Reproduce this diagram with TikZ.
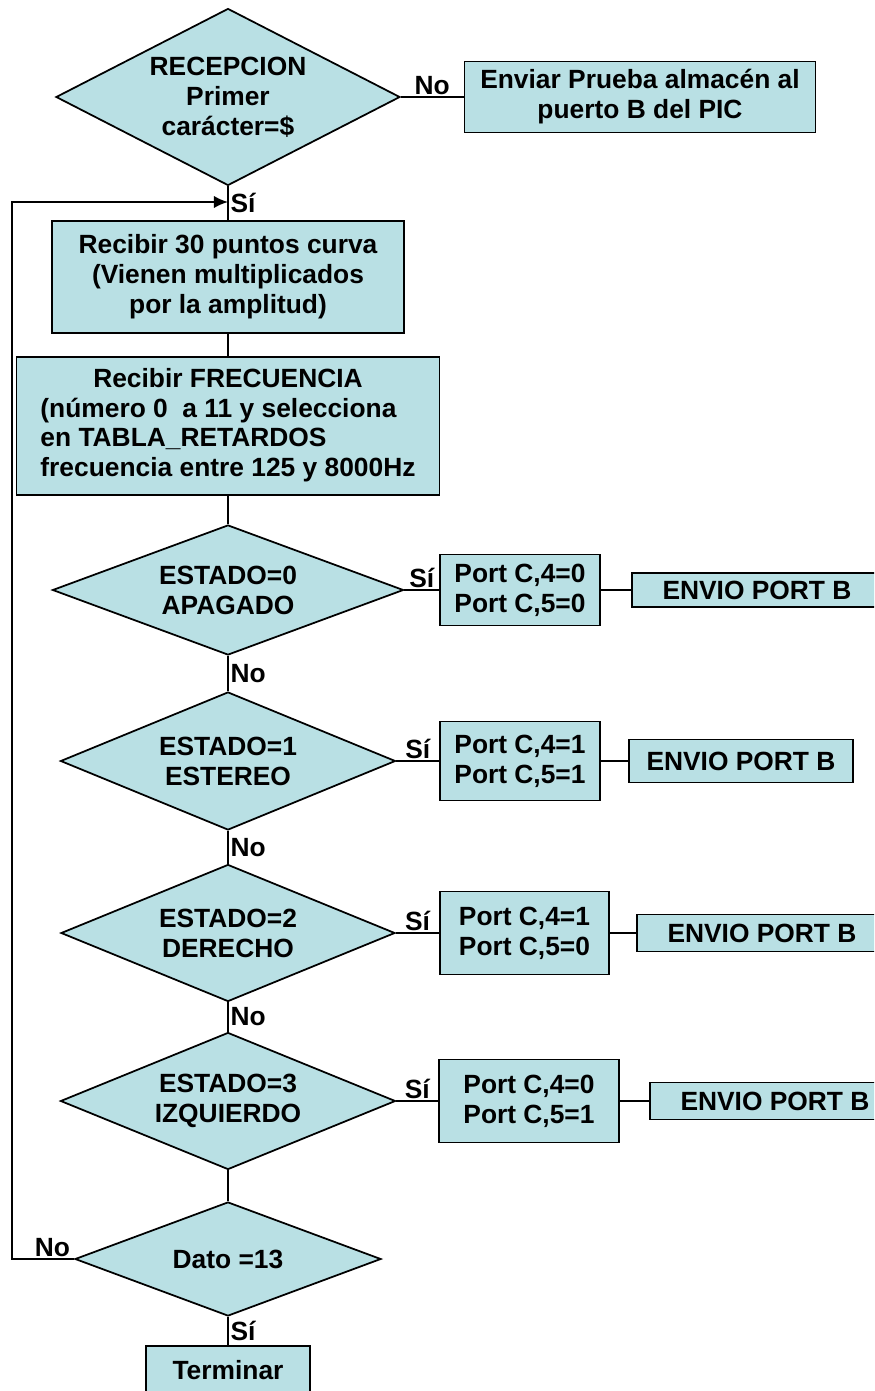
\documentclass[tikz,border=0pt]{standalone}
\usepackage{fontspec}
\setmainfont{Liberation Sans}
\usetikzlibrary{shapes.geometric,arrows.meta}
\definecolor{celeste}{RGB}{185,224,228}
\begin{document}
\begin{tikzpicture}[node distance=3cm, line width=1pt, font=\fontsize{15}{17}\selectfont\bfseries,
    decision/.style={diamond, draw, fill=celeste, aspect=2, inner sep=0pt, align=center},
    caja/.style={rectangle, draw, fill=celeste, align=center, inner sep=2pt},
    envio/.style={caja, minimum width=5cm},
    etq/.style={inner sep=1pt}]
    \useasboundingbox (-4.56,1.94) rectangle (12.92,-25.88);
    \clip (-4.56,1.94) rectangle (12.92,-25.88);
    % bloque de recepcion
    \node [decision, minimum width=6.88cm, minimum height=3.54cm] (rec) {RECEPCION\\Primer\\carácter=\$};
    \node [caja, minimum width=7.02cm, minimum height=1.42cm] (prueba) [right of=rec, node distance=8.24cm] {Enviar Prueba almacén al\\puerto B del PIC};
    \node [caja, minimum width=7.04cm, minimum height=2.24cm] (curva) [below of=rec, node distance=3.6cm] {Recibir 30 puntos curva\\(Vienen multiplicados\\por la amplitud)};
    \node [caja, minimum width=8.46cm, minimum height=2.76cm] (frec) [below of=curva, node distance=2.98cm] {\begin{tabular}{@{}l@{}}\multicolumn{1}{@{}c@{}}{Recibir FRECUENCIA}\\(número 0\ \ a 11 y selecciona\\en TABLA\_RETARDOS\\frecuencia entre 125 y 8000Hz\end{tabular}};
    \coordinate [below of=rec, node distance=2.1cm] (entra);
    % estados
    \node [decision, minimum width=7.02cm, minimum height=2.6cm] (est0) [below of=frec, node distance=3.28cm] {ESTADO=0\\APAGADO};
    \node [caja, minimum width=3.2cm, minimum height=1.42cm] (port0) [right of=est0, node distance=5.84cm] {Port C,4=0\\Port C,5=0};
    \node [envio, minimum height=0.68cm] (envio0) [right of=port0, node distance=4.74cm] {ENVIO PORT B};
    \node [decision, minimum width=6.7cm, minimum height=2.76cm] (est1) [below of=est0, node distance=3.42cm] {ESTADO=1\\ESTEREO};
    \node [caja, minimum width=3.2cm, minimum height=1.58cm] (port1) [right of=est1, node distance=5.84cm] {Port C,4=1\\Port C,5=1};
    \node [envio, minimum width=4.48cm, minimum height=0.86cm] (envio1) [right of=port1, node distance=4.42cm] {ENVIO PORT B};
    \node [decision, minimum width=6.68cm, minimum height=2.74cm] (est2) [below of=est1, node distance=3.44cm] {ESTADO=2\\DERECHO};
    \node [caja, minimum width=3.38cm, minimum height=1.66cm] (port2) [right of=est2, node distance=5.93cm] {Port C,4=1\\Port C,5=0};
    \node [envio, minimum height=0.74cm] (envio2) [right of=port2, node distance=4.75cm] {ENVIO PORT B};
    \node [decision, minimum width=6.7cm, minimum height=2.74cm] (est3) [below of=est2, node distance=3.36cm] {ESTADO=3\\IZQUIERDO};
    \node [caja, minimum width=3.6cm, minimum height=1.66cm] (port3) [right of=est3, node distance=6.02cm] {Port C,4=0\\Port C,5=1};
    \node [envio, minimum height=0.74cm] (envio3) [right of=port3, node distance=4.92cm] {ENVIO PORT B};
    % final
    \node [decision, minimum width=6.12cm, minimum height=2.28cm] (dato) [below of=est3, node distance=3.16cm] {Dato =13};
    \node [caja, minimum width=3.28cm, minimum height=0.96cm] (term) [below of=dato, node distance=2.22cm] {Terminar};
    \coordinate [left of=dato, node distance=4.32cm] (esq);
    \path (rec) edge node [etq, above] {No} (prueba);
    \path (rec) edge node [etq, right] {Sí} (curva);
    \path (curva) edge (frec);
    \path (frec) edge (est0);
    \path (est0) edge node [etq, above] {Sí} (port0);
    \path (port0) edge (envio0);
    \path (est0) edge node [etq, right] {No} (est1);
    \path (est1) edge node [etq, above] {Sí} (port1);
    \path (port1) edge (envio1);
    \path (est1) edge node [etq, right] {No} (est2);
    \path (est2) edge node [etq, above] {Sí} (port2);
    \path (port2) edge (envio2);
    \path (est2) edge node [etq, right] {No} (est3);
    \path (est3) edge node [etq, above] {Sí} (port3);
    \path (port3) edge (envio3);
    \path (est3) edge (dato);
    \path (dato) edge node [etq, right] {Sí} (term);
    \draw [-{Latex[length=8pt, width=7pt]}] (dato.west) -- node [etq, above, pos=0.35] {No} (esq) |- (entra);
\end{tikzpicture}
\end{document}
